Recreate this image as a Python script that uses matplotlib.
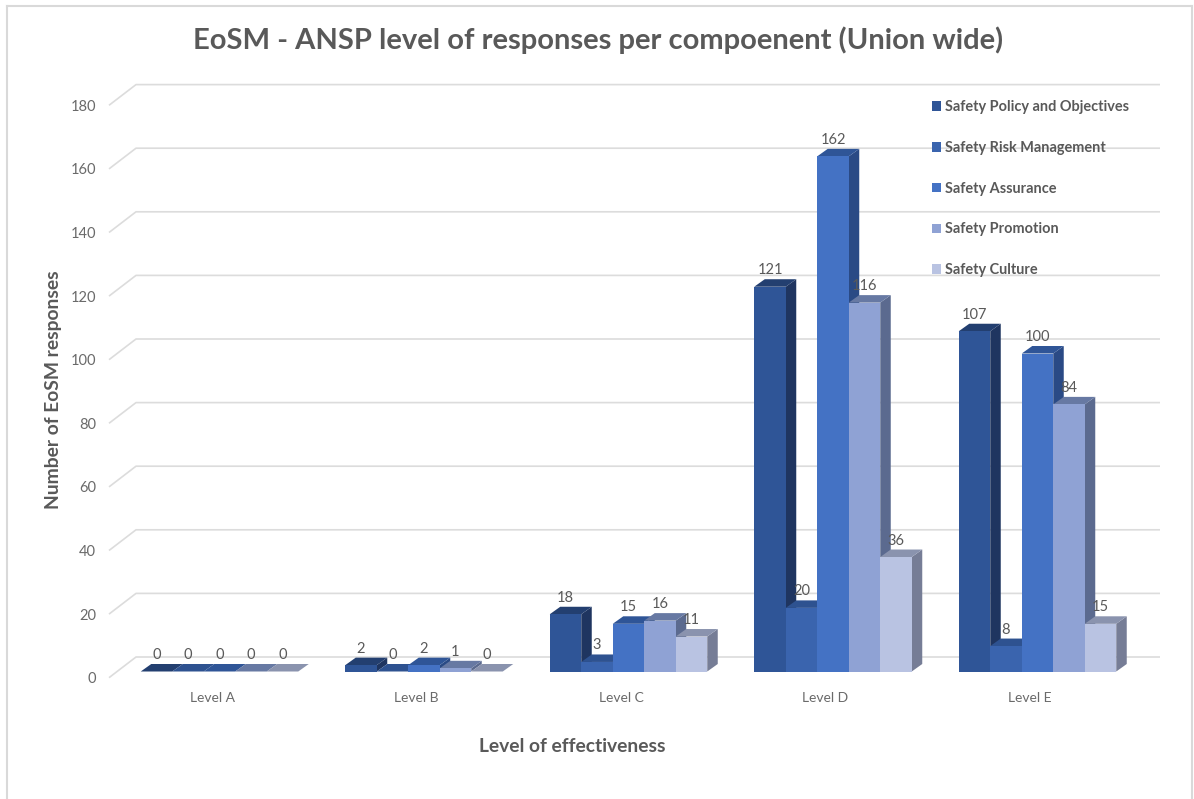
import matplotlib
matplotlib.use('Agg')
import matplotlib.pyplot as plt
from matplotlib.patches import Polygon

plt.rcParams['font.family'] = ['Lato', 'DejaVu Sans']

levels = ['Level A', 'Level B', 'Level C', 'Level D', 'Level E']
policy = [0, 2, 18, 121, 107]
risk = [0, 0, 3, 20, 8]
assurance = [0, 2, 15, 162, 100]
promotion = [0, 1, 16, 116, 84]
culture = [0, 0, 11, 36, 15]
series_names = ['Safety Policy and Objectives', 'Safety Risk Management', 'Safety Assurance',
                'Safety Promotion', 'Safety Culture']
series = [policy, risk, assurance, promotion, culture]

front_colors = ['#2f5597', '#3a64ae', '#4472c4', '#8fa2d4', '#b9c3e2']
top_colors = ['#233f70', '#2e5290', '#2f5597', '#6779a3', '#8a93ae']
side_colors = ['#1f3560', '#284a85', '#2a4a85', '#5b6a8f', '#767d96']
grid_color = '#dcdcdc'
text_color = '#595959'

W, H = 1194, 799
fig = plt.figure(figsize=(W / 100, H / 100), dpi=100)

# pixel helper, everything below is laid out in reference pixels
def box(left, right, top, bottom):
    return [left / W, 1 - bottom / H, (right - left) / W, (bottom - top) / H]

px_y = 3.18
px_x = 204.5
x_lo, x_hi = (100 - 212) / px_x, (1170 - 212) / px_x
y_lo, y_hi = -(720 - 677.7) / px_y, (677.7 - 60) / px_y

# back axes holds ticks and the wall lines
ax = fig.add_axes(box(100, 1170, 60, 720))
ax.set_xlim(x_lo, x_hi)
ax.set_ylim(y_lo, y_hi)
for s in ax.spines.values():
    s.set_visible(False)
ax.set_yticks(range(0, 181, 20))
ax.set_xticks(range(len(levels)))
ax.set_xticklabels(levels)
ax.tick_params(length=0, labelcolor='#6a6a6a')
ax.tick_params(axis='y', labelsize=10.5, pad=3)
ax.tick_params(axis='x', labelsize=10, pad=-20)
ax.patch.set_alpha(0)

wall_dx = 27 / px_x
wall_dy = 20.7 / px_y
x_front = (109 - 212) / px_x
x_end = (1160 - 212) / px_x
for v in range(0, 181, 20):
    ax.plot([x_front, x_front + wall_dx, x_end], [v, v + wall_dy, v + wall_dy],
            color=grid_color, lw=1.2, zorder=1, solid_capstyle='butt')

# bars sit on a plane shifted up and to the right of the tick plane
ax3 = fig.add_axes(box(100 + 7.5, 1170 + 7.5, 60 - 6.2, 720 - 6.2))
ax3.set_xlim(x_lo, x_hi)
ax3.set_ylim(y_lo, y_hi)
ax3.axis('off')

bar_w = 31.5 / px_x
depth_x = 10.5 / px_x
depth_y = 7.5 / px_y

handles = []
for i in range(len(levels)):
    for j in range(len(series)):
        v = series[j][i]
        x0 = i + (j - 2.5) * bar_w
        x1 = x0 + bar_w
        z = 10 + i * 10 + j
        ax3.add_patch(Polygon([(x1, 0), (x1 + depth_x, depth_y), (x1 + depth_x, v + depth_y), (x1, v)],
                              closed=True, fc=side_colors[j], ec='none', zorder=z))
        ax3.add_patch(Polygon([(x0, v), (x0 + depth_x, v + depth_y), (x1 + depth_x, v + depth_y), (x1, v)],
                              closed=True, fc=top_colors[j], ec='none', zorder=z))
        ax3.bar(x0 + bar_w / 2, v, bar_w, color=front_colors[j], zorder=z + 0.5)
        ax3.annotate(str(v), (x0 + bar_w / 2, v), xytext=(0, 16.5 * 0.72), textcoords='offset points',
                     ha='center', va='center', fontsize=10.5, color=text_color, zorder=200)

for j in range(len(series)):
    h = plt.Rectangle((0, 0), 1, 1, fc=front_colors[j], ec='none')
    handles.append(h)
leg = fig.legend(handles, series_names, loc='upper left', bbox_to_anchor=(924.5 / W, 1 - 93 / H),
                 frameon=False, labelspacing=1.84, handlelength=0.62, handleheight=0.62,
                 handletextpad=0.3, borderpad=0.5, borderaxespad=0, labelcolor=text_color,
                 prop={'weight': 'bold', 'size': 10.45})

fig.text(598 / W, 1 - 40 / H, 'EoSM - ANSP level of responses per compoenent (Union wide)',
         ha='center', va='center', fontsize=21, fontweight='bold', color=text_color)
fig.text(54 / W, 1 - 390 / H, 'Number of EoSM responses', rotation=90, ha='center', va='center',
         fontsize=13.9, fontweight='bold', color=text_color)
fig.text(572 / W, 1 - 747 / H, 'Level of effectiveness', ha='center', va='center',
         fontsize=13.9, fontweight='bold', color=text_color)

# chart frame edges visible in the screenshot
border_top = 1 - 5.5 / H
fig.add_artist(plt.Line2D([6.5 / W, 6.5 / W], [0, border_top], color='#d9d9d9', lw=1.5))
fig.add_artist(plt.Line2D([1192 / W, 1192 / W], [0, border_top], color='#d9d9d9', lw=1.5))
fig.add_artist(plt.Line2D([6.5 / W, 1192 / W], [border_top, border_top], color='#d9d9d9', lw=1.5))

fig.savefig('out.png', dpi=100)
